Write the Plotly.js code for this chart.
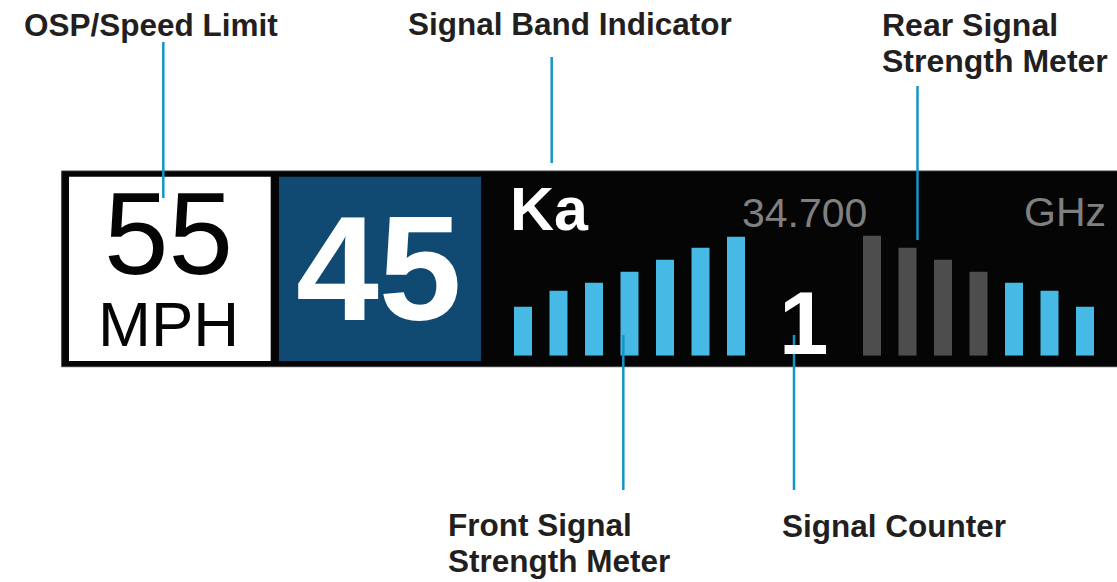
<!DOCTYPE html>
<html>
<head>
<meta charset="utf-8">
<script src="https://cdn.plot.ly/plotly-3.0.1.min.js"></script>
<style>
  html, body { margin: 0; padding: 0; background: #ffffff; }
  #chart { width: 1117px; height: 582px; }
</style>
</head>
<body>
<div id="chart"></div>
<script>
// ---- data ----
const frontLevels = [1, 2, 3, 4, 5, 6, 7];
const frontStrength = [49, 65, 73, 84, 96, 108, 119];
const rearLevels = [1, 2, 3, 4, 5, 6, 7];
const rearStrength = [120, 108, 96, 84, 73, 65, 49];
const rearLitCount = 3;           // bars lit (blue) at the end of the rear meter
const speedLimit = "55";
const speedUnit = "MPH";
const currentSpeed = "45";
const band = "Ka";
const frequency = "34.700";
const freqUnit = "GHz";
const signalCount = "1";
const calloutLabels = ["OSP/Speed Limit", "Signal Band Indicator", "Rear Signal", "Strength Meter",
                       "Front Signal", "Strength Meter", "Signal Counter"];

// ---- styles ----
const BLUE_BAR = "#46bae4";
const GREY_BAR = "#4d4d4d";
const CALLOUT = "#1496c4";
const LABEL = "#231f20";
const FONT = "Liberation Sans, Arial, sans-serif";
const W = 1117, H = 582;

const rearColors = rearStrength.map((v, i) => i >= rearStrength.length - rearLitCount ? BLUE_BAR : GREY_BAR);

const traces = [
  { type: "bar", x: frontLevels.map(String), y: frontStrength, xaxis: "x2", yaxis: "y2",
    marker: { color: BLUE_BAR, line: { width: 0 } }, hoverinfo: "skip", showlegend: false },
  { type: "bar", x: rearLevels.map(String), y: rearStrength, xaxis: "x3", yaxis: "y3",
    marker: { color: rearColors, line: { width: 0 } }, hoverinfo: "skip", showlegend: false }
];

const px = v => v / W;
const py = v => (H - v) / H;

const hidden = { visible: false, fixedrange: true, showgrid: false, zeroline: false };

function line(x, y0, y1) {
  return { type: "line", xref: "x", yref: "y", x0: x, x1: x, y0: y0, y1: y1,
           line: { color: CALLOUT, width: 2.5 }, layer: "above" };
}
function rect(x0, y0, x1, y1, fill, lc, lw) {
  return { type: "rect", xref: "x", yref: "y", x0, y0, x1, y1, fillcolor: fill,
           line: { color: lc || fill, width: lw || 0 }, layer: "below" };
}
function txt(text, x, y, size, color, bold, xanchor) {
  return { text: bold ? "<b>" + text + "</b>" : text, x, y, xref: "x", yref: "y",
           xanchor: xanchor || "center", yanchor: "middle", showarrow: false,
           font: { family: FONT, size, color } };
}

const speedBlock = "<span style='font-size:116px'>" + speedLimit + "</span><br>" +
                   "<span style='font-size:63.5px'>" + speedUnit + "</span>";

const layout = {
  width: W, height: H,
  margin: { l: 0, r: 0, t: 0, b: 0, pad: 0 },
  paper_bgcolor: "#ffffff", plot_bgcolor: "rgba(0,0,0,0)",
  showlegend: false,
  bargap: 0.493,
  xaxis: Object.assign({ range: [0, W], domain: [0, 1] }, hidden),
  yaxis: Object.assign({ range: [H, 0], domain: [0, 1] }, hidden),
  xaxis2: Object.assign({ type: "category", range: [-0.5, 6.5], domain: [px(505.25), px(753.75)], anchor: "y2" }, hidden),
  yaxis2: Object.assign({ range: [0, 130], domain: [py(355.7), py(225.7)], anchor: "x2" }, hidden),
  xaxis3: Object.assign({ type: "category", range: [-0.5, 6.5], domain: [px(854.25), px(1102.75)], anchor: "y3" }, hidden),
  yaxis3: Object.assign({ range: [0, 130], domain: [py(355.7), py(225.7)], anchor: "x3" }, hidden),
  shapes: [
    rect(61.7, 171, 1120, 366.7, "#050505", "#3a3a3a", 1),
    rect(69, 176.7, 270.7, 361, "#ffffff"),
    rect(279, 176.7, 481, 361, "#104a72"),
    line(163.3, 42, 198),
    line(551.7, 57, 163),
    line(917.5, 86, 240),
    line(623.3, 335, 490),
    line(794, 335, 490)
  ],
  annotations: [
    txt(speedBlock, 168, 264, 55.6, "#050505", false),
    txt(currentSpeed, 379, 268.3, 149, "#ffffff", true),
    txt(band, 549, 209.2, 61, "#ffffff", true),
    txt(frequency, 804.5, 212.5, 41, "#808080", false),
    txt(freqUnit, 1065.4, 211.7, 41, "#808080", false),
    txt(signalCount, 804, 323, 89, "#ffffff", true),
    txt(calloutLabels[0], 150.5, 24.7, 31.5, LABEL, true),
    txt(calloutLabels[1], 570.2, 24.2, 31.5, LABEL, true),
    txt(calloutLabels[2], 880, 25, 32, LABEL, true, "left"),
    txt(calloutLabels[3], 880, 61.3, 32, LABEL, true, "left"),
    txt(calloutLabels[4], 445.5, 525.3, 31.5, LABEL, true, "left"),
    txt(calloutLabels[5], 445.5, 560.8, 31.5, LABEL, true, "left"),
    txt(calloutLabels[6], 894.2, 525.8, 31.5, LABEL, true)
  ]
};

Plotly.newPlot("chart", traces, layout, { staticPlot: true, displayModeBar: false });
</script>
</body>
</html>
